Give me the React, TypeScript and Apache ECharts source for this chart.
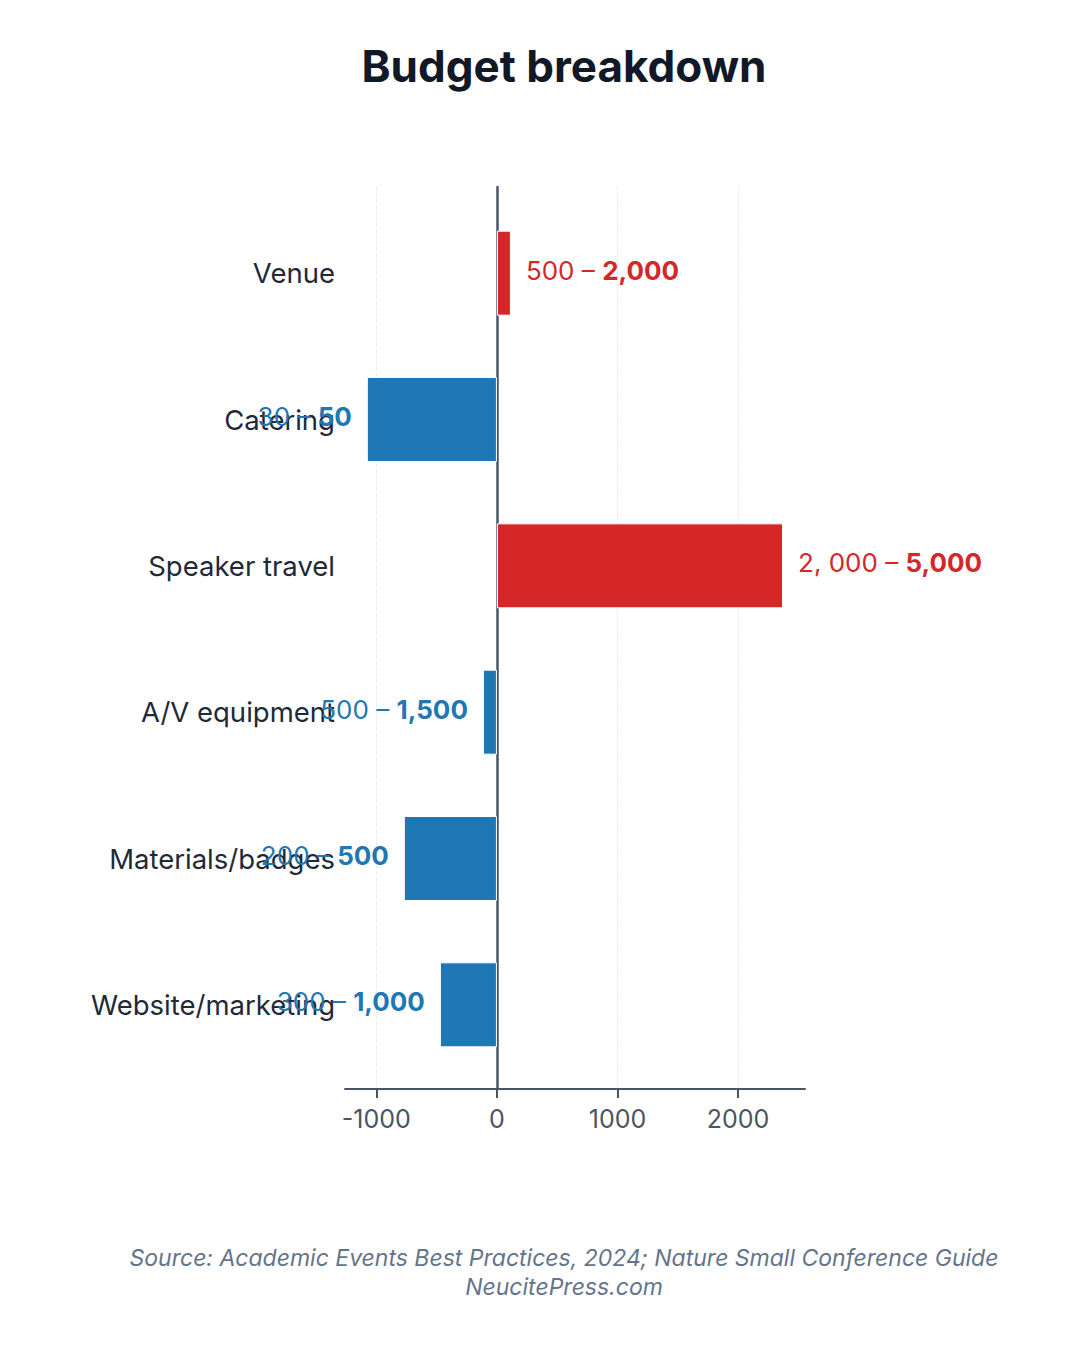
import { useRef, useEffect } from "react";
import * as echarts from "echarts";

const categories = [
  "Venue",
  "Catering",
  "Speaker travel",
  "A/V equipment",
  "Materials/badges",
  "Website/marketing",
];
const values = [116, -1079, 2373, -116, -772, -473];
const rangeLow = ["500", "30", "2, 000", "500", "200", "300"];
const rangeHigh = ["2,000", "50", "5,000", "1,500", "500", "1,000"];
const tickValues = [-1000, 0, 1000, 2000];
const xMin = -1260;
const xMax = 2555;

const RED = "#d62728";
const BLUE = "#1f77b4";
const AXIS = "#475569";
const FONT = "Inter, 'Noto Sans', sans-serif";

export default function App() {
  const chartRef = useRef<HTMLDivElement>(null);

  useEffect(() => {
    document.body.style.margin = "0";
    if (!chartRef.current) return;
    const chart = echarts.init(chartRef.current, undefined, { renderer: "svg" });

    const barData = values.map((v, i) => {
      const color = v >= 0 ? RED : BLUE;
      return {
        value: v,
        itemStyle: { color },
        label: {
          show: true,
          position: v >= 0 ? "right" : "left",
          distance: 15,
          offset: [0, -3],
          formatter: `{n|${rangeLow[i]} – }{b|${rangeHigh[i]}}`,
          rich: {
            n: { color, fontSize: 26, fontFamily: FONT },
            b: { color, fontSize: 26, fontWeight: "bold", fontFamily: FONT },
          },
        },
      };
    });

    const option: any = {
      animation: false,
      backgroundColor: "#ffffff",
      grid: [
        { left: 345, right: 275, top: 200, bottom: 272 },
        { left: 345, right: 275, top: 187, bottom: 261 },
      ],
      xAxis: [
        { gridIndex: 0, type: "value", min: xMin, max: xMax, show: false },
        {
          gridIndex: 1,
          type: "value",
          min: xMin,
          max: xMax,
          axisLine: { show: true, onZero: false, lineStyle: { color: AXIS, width: 2 } },
          axisTick: { show: true, length: 9, customValues: tickValues, lineStyle: { color: AXIS, width: 2 } },
          axisLabel: {
            customValues: tickValues,
            formatter: (v: number) => String(v),
            color: "#4b5563",
            fontSize: 25,
            margin: 17,
            fontFamily: FONT,
          },
          splitLine: {
            show: true,
            lineStyle: { color: "#e8eaee", type: "dashed", width: 1 },
          },
        },
      ],
      yAxis: [
        {
          gridIndex: 0,
          type: "category",
          data: categories,
          inverse: true,
          axisLine: { show: false, onZero: false },
          axisTick: { show: false },
          axisLabel: { color: "#1f2937", fontSize: 27.5, margin: 10, fontFamily: FONT },
          splitLine: { show: false },
        },
        {
          gridIndex: 1,
          type: "category",
          data: [""],
          axisLine: { show: true, onZero: true, lineStyle: { color: AXIS, width: 2.5 } },
          axisTick: { show: false },
          axisLabel: { show: false },
          splitLine: { show: false },
        },
      ],
      series: [
        {
          type: "bar",
          xAxisIndex: 0,
          yAxisIndex: 0,
          barWidth: 85,
          data: barData,
          itemStyle: { borderColor: "#ffffff", borderWidth: 1 },
          z: 3,
        },
      ],
      graphic: [
        {
          type: "text",
          x: 564,
          y: 66,
          style: {
            text: "Budget breakdown",
            align: "center",
            verticalAlign: "middle",
            fill: "#111827",
            font: `bold 44px ${FONT}`,
          },
        },
        {
          type: "text",
          x: 564,
          y: 1258,
          style: {
            text: "Source: Academic Events Best Practices, 2024; Nature Small Conference Guide",
            align: "center",
            verticalAlign: "middle",
            fill: "#64748b",
            font: `italic 23px ${FONT}`,
          },
        },
        {
          type: "text",
          x: 564,
          y: 1287,
          style: {
            text: "NeucitePress.com",
            align: "center",
            verticalAlign: "middle",
            fill: "#64748b",
            font: `italic 23px ${FONT}`,
          },
        },
      ],
    };

    chart.setOption(option);
    return () => chart.dispose();
  }, []);

  return <div ref={chartRef} style={{ width: 1080, height: 1350 }} />;
}
